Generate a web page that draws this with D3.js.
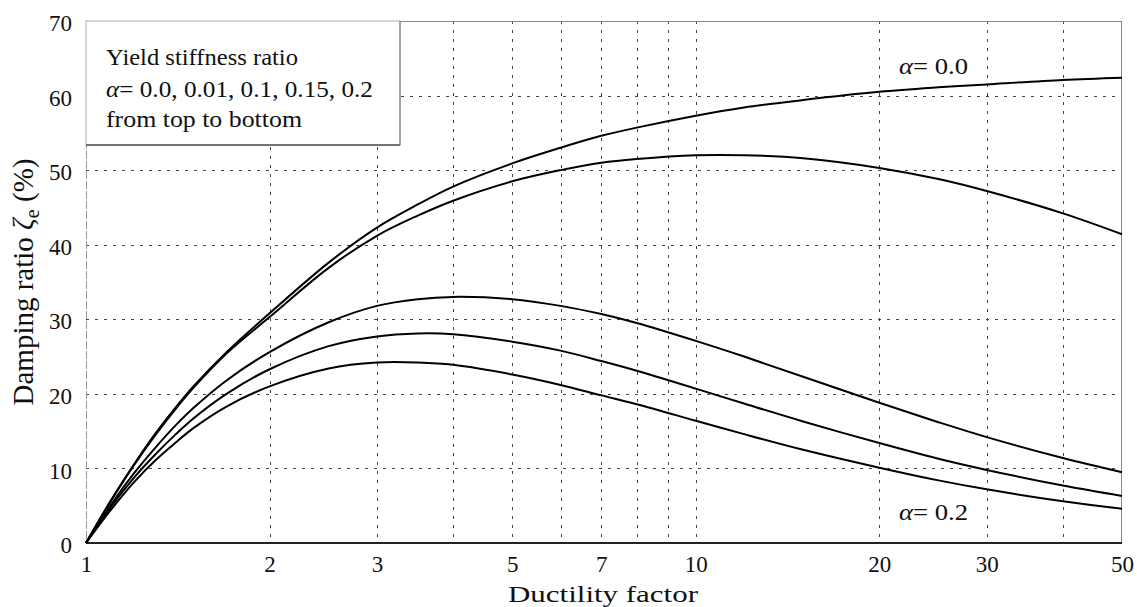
<!DOCTYPE html>
<html><head><meta charset="utf-8">
<script src="https://cdn.jsdelivr.net/npm/d3@7"></script>
<style>
body{margin:0;background:#fff}
text{font-family:"Liberation Serif","Times New Roman",serif;fill:#111}
</style>
</head><body><svg id="c" width="1137" height="607"></svg>
<script>
// Ductility factor (x) sample points
const ductility = [1, 1.1, 1.2, 1.3, 1.4, 1.5, 1.7, 2, 2.5, 3, 3.5, 4, 5, 6, 7, 8, 10, 12, 15, 20, 25, 30, 40, 50];
// Damping ratio (%), alpha = 0.0, 0.01, 0.1, 0.15, 0.2
const zetaA000 = [0, 5.8, 10.6, 14.7, 18.1, 21.0, 25.6, 30.8, 37.6, 42.3, 45.4, 47.8, 50.9, 53.0, 54.6, 55.7, 57.3, 58.4, 59.4, 60.5, 61.1, 61.5, 62.1, 62.4];
const zetaA001 = [0, 5.7, 10.5, 14.5, 17.9, 20.8, 25.4, 30.3, 36.9, 41.2, 43.9, 45.9, 48.5, 50.0, 51.0, 51.5, 52.0, 52.0, 51.6, 50.3, 48.8, 47.2, 44.2, 41.4];
const zetaA010 = [0, 5.2, 9.4, 12.8, 15.7, 18.1, 21.8, 25.6, 29.6, 31.8, 32.7, 33.0, 32.7, 31.8, 30.7, 29.5, 27.1, 25.0, 22.3, 18.8, 16.2, 14.2, 11.4, 9.5];
const zetaA015 = [0, 4.9, 8.8, 11.9, 14.5, 16.7, 20.0, 23.3, 26.4, 27.7, 28.1, 28.0, 27.0, 25.8, 24.4, 23.1, 20.7, 18.7, 16.3, 13.4, 11.3, 9.8, 7.7, 6.3];
const zetaA020 = [0, 4.5, 8.2, 11.1, 13.4, 15.4, 18.3, 21.0, 23.4, 24.2, 24.2, 23.9, 22.6, 21.2, 19.8, 18.6, 16.4, 14.6, 12.5, 10.1, 8.4, 7.2, 5.6, 4.6];
const seriesNames = ["0.0", "0.01", "0.1", "0.15", "0.2"];
const seriesValues = [zetaA000, zetaA001, zetaA010, zetaA015, zetaA020];

const xTickValues = [1, 2, 3, 5, 7, 10, 20, 30, 50];
const xGridValues = [2, 3, 4, 5, 6, 7, 8, 9, 10, 20, 30, 40];
const yTickValues = [0, 10, 20, 30, 40, 50, 60, 70];
const yGridValues = [10, 20, 30, 40, 50, 60];
const legendLines = ["Yield stiffness ratio", "= 0.0, 0.01, 0.1, 0.15, 0.2", "from top to bottom"];

const L = 86, R = 1122, T = 21, B = 543;
const FONT = "Liberation Serif, Times New Roman, serif";
const svg = d3.select("#c");
const x = d3.scaleLog().domain([1, 50]).range([L, R]);
const y = d3.scaleLinear().domain([0, 70]).range([B, T]);

// grid
const grid = svg.append("g").attr("stroke", "#444").attr("stroke-width", 1).attr("stroke-dasharray", "3,6");
grid.selectAll("line.v").data(xGridValues).join("line").attr("class", "v")
  .attr("x1", d => Math.round(x(d)) + 0.5).attr("x2", d => Math.round(x(d)) + 0.5)
  .attr("y1", T).attr("y2", B);
grid.selectAll("line.h").data(yGridValues).join("line").attr("class", "h")
  .attr("x1", L).attr("x2", R)
  .attr("y1", d => Math.round(y(d)) + 0.5).attr("y2", d => Math.round(y(d)) + 0.5);

// frame
svg.append("line").attr("x1", L).attr("x2", R).attr("y1", T + 0.5).attr("y2", T + 0.5).attr("stroke", "#888");
svg.append("line").attr("x1", L + 0.5).attr("x2", L + 0.5).attr("y1", T).attr("y2", B).attr("stroke", "#999").attr("stroke-dasharray", "8,2");
svg.append("line").attr("x1", R - 0.5).attr("x2", R - 0.5).attr("y1", T).attr("y2", B).attr("stroke", "#888");
svg.append("line").attr("x1", L).attr("x2", R).attr("y1", B).attr("y2", B).attr("stroke", "#222").attr("stroke-width", 2);

// curves
const line = d3.line().x((d, i) => x(ductility[i])).y(d => y(d)).curve(d3.curveCatmullRom.alpha(0.5));
svg.append("g").selectAll("path").data(seriesValues).join("path")
  .attr("d", d => line(d)).attr("fill", "none").attr("stroke", "#000").attr("stroke-width", 2);

// legend box
const lg = svg.append("g");
lg.append("rect").attr("x", L).attr("y", T).attr("width", 314).attr("height", 124).attr("fill", "#fff").attr("stroke", "#aaa");
lg.append("line").attr("x1", L).attr("x2", L + 314).attr("y1", T + 124).attr("y2", T + 124).attr("stroke", "#555").attr("stroke-width", 1.5);
lg.append("line").attr("x1", L + 314).attr("x2", L + 314).attr("y1", T).attr("y2", T + 124).attr("stroke", "#777").attr("stroke-width", 1);
lg.append("text").attr("x", 106).attr("y", 65).attr("font-size", 23)
  .attr("textLength", 192).attr("lengthAdjust", "spacingAndGlyphs").text(legendLines[0]);
const t2 = lg.append("text").attr("x", 106).attr("y", 97).attr("font-size", 23)
  .attr("textLength", 267).attr("lengthAdjust", "spacingAndGlyphs");
t2.append("tspan").attr("font-style", "italic").text("α");
t2.append("tspan").text(legendLines[1]);
lg.append("text").attr("x", 106).attr("y", 127).attr("font-size", 23)
  .attr("textLength", 196).attr("lengthAdjust", "spacingAndGlyphs").text(legendLines[2]);

// axes
const xAxis = svg.append("g").attr("transform", `translate(0,${B})`)
  .call(d3.axisBottom(x).tickValues(xTickValues).tickFormat(d3.format("d")).tickSize(0).tickPadding(13));
xAxis.select(".domain").remove();
xAxis.selectAll("text").attr("font-size", 23).attr("fill", "#111").attr("font-family", FONT);
const yAxis = svg.append("g").attr("transform", `translate(${L},0)`)
  .call(d3.axisLeft(y).tickValues(yTickValues).tickFormat(d3.format("d")).tickSize(0).tickPadding(14));
yAxis.select(".domain").remove();
yAxis.selectAll("text").attr("font-size", 23).attr("fill", "#111").attr("font-family", FONT).attr("dy", "0.42em");

// axis titles
svg.append("text").attr("x", 603).attr("y", 601.5).attr("text-anchor", "middle").attr("font-size", 24)
  .attr("textLength", 190).attr("lengthAdjust", "spacingAndGlyphs").text("Ductility factor");
const yt = svg.append("text").attr("transform", "translate(33,282) rotate(-90)").attr("text-anchor", "middle").attr("font-size", 29);
yt.append("tspan").text("Damping ratio ");
yt.append("tspan").attr("font-style", "italic").text("ζ");
yt.append("tspan").attr("font-size", 20).attr("dy", 6).text("e");
yt.append("tspan").attr("dy", -6).text(" (%)");

// curve labels
const la = svg.append("text").attr("x", 899).attr("y", 74).attr("font-size", 24)
  .attr("textLength", 69).attr("lengthAdjust", "spacingAndGlyphs");
la.append("tspan").attr("font-style", "italic").text("α");
la.append("tspan").text("= " + seriesNames[0]);
const lb = svg.append("text").attr("x", 899).attr("y", 520).attr("font-size", 24)
  .attr("textLength", 69).attr("lengthAdjust", "spacingAndGlyphs");
lb.append("tspan").attr("font-style", "italic").text("α");
lb.append("tspan").text("= " + seriesNames[4]);
</script>
</body></html>
